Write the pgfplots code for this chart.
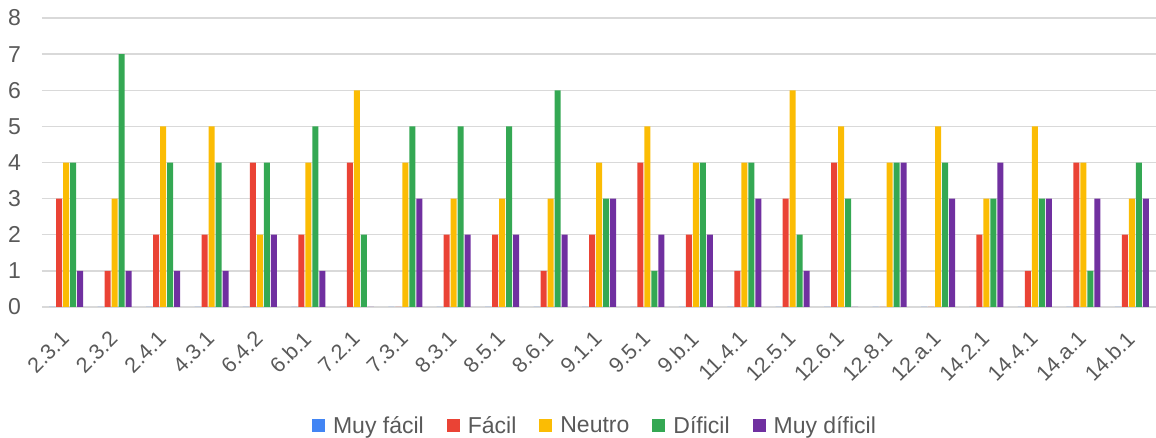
\documentclass[border=0pt]{standalone}
\usepackage{pgfplots}
\pgfplotsset{compat=1.18}
\usepackage{fontspec}
\setmainfont{Liberation Sans}
\definecolor{cblue}{HTML}{4285F4}
\definecolor{cred}{HTML}{EA4335}
\definecolor{cyellow}{HTML}{FBBC04}
\definecolor{cgreen}{HTML}{34A853}
\definecolor{cpurple}{HTML}{7030A0}
\definecolor{ctext}{HTML}{595959}
\definecolor{cgrid}{HTML}{D9D9D9}
\begin{document}
\begin{tikzpicture}
\begin{axis}[
  at={(0pt,0pt)}, anchor=south west,
  width=1114pt, height=289pt, scale only axis,
  ybar=1pt, bar width=6pt,
  xmin=-0.5, xmax=22.5, ymin=0, ymax=8,
  enlarge x limits=false,
  ytick={0,1,...,8},
  xtick={0,1,...,22},
  xticklabels={2.3.1,2.3.2,2.4.1,4.3.1,6.4.2,6.b.1,7.2.1,7.3.1,8.3.1,8.5.1,8.6.1,9.1.1,9.5.1,9.b.1,11.4.1,12.5.1,12.6.1,12.8.1,12.a.1,14.2.1,14.4.1,14.a.1,14.b.1},
  axis line style={draw=none},
  major tick length=0pt,
  ymajorgrids, grid style={cgrid, line width=1.5pt},
  tick label style={font=\fontsize{23}{27}\selectfont, text=ctext},
  /pgf/number format/assume math mode=true,
  yticklabel style={anchor=east, inner sep=0pt, xshift=-21pt},
  xticklabel style={font=\fontsize{21.5}{25}\selectfont, xshift=-1pt, yshift=-28pt, rotate=45, anchor=east, inner sep=0pt},
  every axis plot post/.append style={draw=none,
    legend image code/.code={\fill[##1] (0pt,-6.5pt) rectangle (13pt,6.5pt); \path (19pt,0pt);}},
  legend style={at={(0.4964,-0.41)}, anchor=center, draw=none, fill=none,
    legend columns=5, font=\fontsize{23}{27}\selectfont, text=ctext,
    /tikz/every even column/.append style={column sep=21pt}},
]
\addplot[fill=cblue] coordinates {(0,0) (1,0) (2,0) (3,0) (4,0) (5,0) (6,0) (7,0) (8,0) (9,0) (10,0) (11,0) (12,0) (13,0) (14,0) (15,0) (16,0) (17,0) (18,0) (19,0) (20,0) (21,0) (22,0)};
\addplot[fill=cred] coordinates {(0,3) (1,1) (2,2) (3,2) (4,4) (5,2) (6,4) (7,0) (8,2) (9,2) (10,1) (11,2) (12,4) (13,2) (14,1) (15,3) (16,4) (17,0) (18,0) (19,2) (20,1) (21,4) (22,2)};
\addplot[fill=cyellow] coordinates {(0,4) (1,3) (2,5) (3,5) (4,2) (5,4) (6,6) (7,4) (8,3) (9,3) (10,3) (11,4) (12,5) (13,4) (14,4) (15,6) (16,5) (17,4) (18,5) (19,3) (20,5) (21,4) (22,3)};
\addplot[fill=cgreen] coordinates {(0,4) (1,7) (2,4) (3,4) (4,4) (5,5) (6,2) (7,5) (8,5) (9,5) (10,6) (11,3) (12,1) (13,4) (14,4) (15,2) (16,3) (17,4) (18,4) (19,3) (20,3) (21,1) (22,4)};
\addplot[fill=cpurple] coordinates {(0,1) (1,1) (2,1) (3,1) (4,2) (5,1) (6,0) (7,3) (8,2) (9,2) (10,2) (11,3) (12,2) (13,2) (14,3) (15,1) (16,0) (17,4) (18,3) (19,4) (20,3) (21,3) (22,3)};
\legend{Muy fácil,Fácil,Neutro,Díficil,Muy díficil}
\end{axis}
\pgfresetboundingbox
\path (-42pt,-131pt) rectangle (1114pt,307pt);
\end{tikzpicture}
\end{document}
